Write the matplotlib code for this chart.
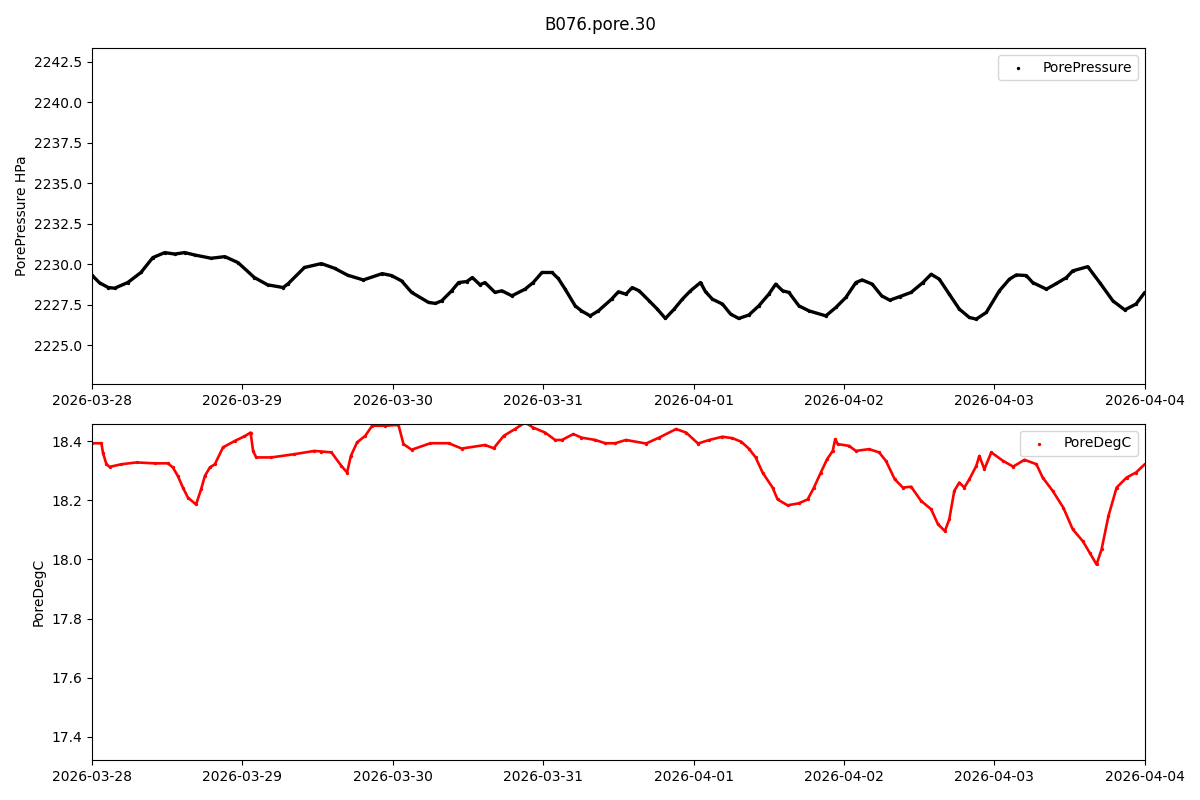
import numpy as np
import pandas as pd
import matplotlib
matplotlib.use("Agg")
import matplotlib.pyplot as plt
import matplotlib.dates as mdates

start = pd.Timestamp("2026-03-28")

# pore pressure (hours since start, HPa)
p_hours = [0, 1.2, 2.6, 3.6, 5.7, 7.8, 9.7, 11.6, 13.2, 14.8, 16.4, 19.0, 21.2, 23.3,
           25.9, 28.0, 30.5, 31.3, 33.9, 36.6, 38.7, 40.8, 43.3, 46.3, 47.8, 49.4,
           51.0, 53.7, 54.8, 55.8, 57.4, 58.5, 59.8, 60.7, 61.9, 62.7, 64.3, 65.4,
           67.0, 69.1, 70.4, 71.8, 73.4, 74.4, 75.5, 77.1, 78.1, 79.5, 80.8, 82.9,
           84.0, 85.2, 86.2, 87.3, 88.9, 90.2, 91.5, 92.9, 94.2, 95.5, 97.1, 97.9,
           99.0, 100.6, 101.9, 103.2, 104.8, 106.4, 108.0, 109.1, 110.2, 111.2,
           112.8, 114.4, 117.1, 118.7, 120.3, 121.9, 122.9, 124.5, 126.0, 127.3,
           128.9, 130.7, 132.6, 133.9, 135.2, 136.8, 138.4, 140.0, 141.1, 142.7,
           144.8, 146.4, 147.5, 149.1, 150.1, 152.3, 153.9, 155.5, 156.5, 158.9,
           160.8, 162.9, 164.8, 166.6, 168.0]
p_values = [2229.32, 2228.85, 2228.56, 2228.52, 2228.87, 2229.49, 2230.41, 2230.72,
            2230.63, 2230.72, 2230.57, 2230.37, 2230.47, 2230.10, 2229.18, 2228.73,
            2228.56, 2228.80, 2229.80, 2230.04, 2229.75, 2229.32, 2229.03, 2229.42,
            2229.30, 2228.97, 2228.26, 2227.64, 2227.58, 2227.74, 2228.36, 2228.87,
            2228.93, 2229.18, 2228.73, 2228.87, 2228.26, 2228.36, 2228.05, 2228.46,
            2228.87, 2229.49, 2229.49, 2229.12, 2228.46, 2227.43, 2227.12, 2226.81,
            2227.12, 2227.84, 2228.30, 2228.15, 2228.56, 2228.36, 2227.74, 2227.23,
            2226.65, 2227.23, 2227.84, 2228.36, 2228.87, 2228.30, 2227.84, 2227.54,
            2226.92, 2226.65, 2226.86, 2227.43, 2228.15, 2228.77, 2228.36, 2228.26,
            2227.43, 2227.12, 2226.81, 2227.33, 2227.95, 2228.87, 2229.03, 2228.77,
            2228.05, 2227.78, 2228.00, 2228.26, 2228.87, 2229.38, 2229.08, 2228.15,
            2227.23, 2226.71, 2226.61, 2227.02, 2228.36, 2229.08, 2229.34, 2229.30,
            2228.87, 2228.46, 2228.81, 2229.18, 2229.59, 2229.85, 2228.87, 2227.74,
            2227.18, 2227.54, 2228.26]

# pore temperature (hours since start, degC)
t_hours = [0, 1.5, 1.75, 2.3, 2.8, 4.7, 7.1, 10.0, 12.1, 12.9, 13.7, 14.5, 15.3,
           16.6, 17.4, 18.0, 18.8, 19.6, 20.9, 22.8, 24.3, 25.3, 25.7, 26.2, 28.6,
           32.3, 35.5, 36.6, 38.2, 39.8, 40.7, 41.3, 42.3, 43.6, 44.7, 46.8, 48.9,
           49.7, 51.0, 54.0, 56.9, 59.0, 62.7, 64.1, 65.7, 67.5, 69.1, 70.4, 72.3,
           73.9, 75.0, 76.8, 78.1, 80.3, 81.9, 83.5, 85.2, 88.4, 90.5, 93.2, 94.8,
           96.7, 98.5, 100.6, 102.2, 103.6, 104.8, 105.9, 107.0, 108.6, 109.4,
           111.0, 112.8, 114.2, 115.2, 116.3, 117.3, 118.2, 118.6, 119.0, 120.8,
           121.9, 124.0, 125.6, 126.7, 128.1, 129.4, 130.7, 132.3, 133.9, 135.0,
           136.1, 136.8, 137.6, 138.4, 139.2, 140.0, 141.1, 141.6, 142.4, 143.5,
           145.4, 147.0, 148.8, 150.7, 151.7, 153.3, 155.0, 156.5, 158.1, 159.2,
           160.3, 161.1, 162.2, 163.5, 165.1, 166.6, 168.0]
t_values = [18.393, 18.393, 18.36, 18.322, 18.313, 18.322, 18.328, 18.325, 18.325,
            18.311, 18.282, 18.243, 18.209, 18.186, 18.237, 18.282, 18.311, 18.322,
            18.379, 18.401, 18.416, 18.429, 18.367, 18.345, 18.345, 18.356, 18.367,
            18.365, 18.362, 18.316, 18.294, 18.35, 18.396, 18.418, 18.452, 18.452,
            18.455, 18.39, 18.371, 18.393, 18.393, 18.375, 18.387, 18.376, 18.418,
            18.441, 18.463, 18.446, 18.429, 18.404, 18.404, 18.424, 18.412, 18.404,
            18.393, 18.393, 18.404, 18.392, 18.412, 18.441, 18.429, 18.392, 18.404,
            18.415, 18.41, 18.398, 18.375, 18.345, 18.294, 18.243, 18.203, 18.183,
            18.19, 18.203, 18.243, 18.294, 18.339, 18.367, 18.407, 18.39, 18.384,
            18.367, 18.373, 18.362, 18.333, 18.271, 18.243, 18.246, 18.198, 18.17,
            18.119, 18.096, 18.136, 18.232, 18.26, 18.243, 18.271, 18.316, 18.35,
            18.305, 18.362, 18.333, 18.314, 18.337, 18.322, 18.277, 18.232, 18.175,
            18.102, 18.062, 18.023, 17.983, 18.034, 18.147, 18.243, 18.277, 18.294,
            18.322]

p_time = start + pd.to_timedelta(p_hours, unit="h")
t_time = start + pd.to_timedelta(t_hours, unit="h")

fig, (ax1, ax2) = plt.subplots(2, 1, figsize=(12, 8), dpi=100)
plt.subplots_adjust(left=0.0767, right=0.954, top=0.94, bottom=0.05, hspace=0.119)
fig.suptitle("B076.pore.30", fontsize=12, y=0.98)

ax1.plot(p_time, p_values, color="black", lw=2.4, solid_capstyle="round")
ax1.scatter(p_time, p_values, s=2, color="black", label="PorePressure")
ax1.set_ylim(2222.6, 2243.36)
ax1.set_yticks(np.arange(2225.0, 2243.0, 2.5))
ax1.ticklabel_format(axis="y", useOffset=False)
ax1.set_ylabel("PorePressure HPa")
ax1.legend(loc="upper right")

ax2.plot(t_time, t_values, color="red", lw=1.9, solid_capstyle="round")
ax2.scatter(t_time, t_values, s=2, color="red", label="PoreDegC")
ax2.set_ylim(17.322, 18.458)
ax2.set_yticks(np.arange(17.4, 18.41, 0.2))
ax2.set_ylabel("PoreDegC")
ax2.legend(loc="upper right")

for ax in (ax1, ax2):
    ax.set_xlim(start, start + pd.Timedelta(days=7))
    ax.xaxis.set_major_locator(mdates.DayLocator())
    ax.xaxis.set_major_formatter(mdates.DateFormatter("%Y-%m-%d"))

fig.savefig("out.png")
